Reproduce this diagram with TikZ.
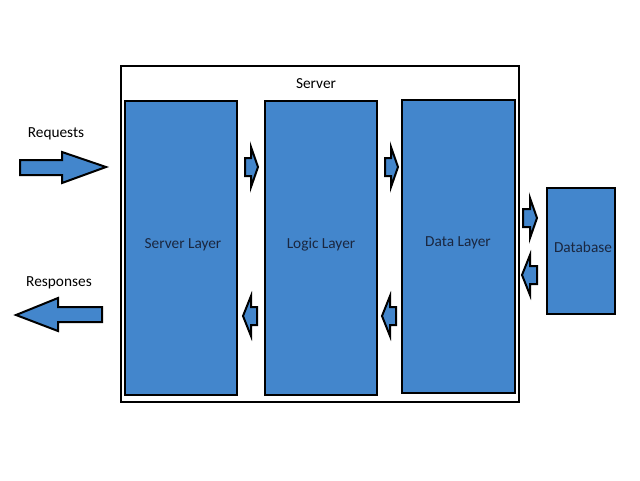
\documentclass[tikz,border=0pt]{standalone}
\usepackage{fontspec}
\setmainfont{Carlito}
\definecolor{layerblue}{HTML}{4386CC}
\definecolor{layertext}{HTML}{1A2740}
\tikzset{
	layerbox/.style={draw=black,line width=1.5pt,fill=layerblue,inner sep=0pt},
	layername/.style={text=layertext},
	blockarrow/.style={draw=black,line width=1.5pt,fill=layerblue,line join=miter}
}
\begin{document}
\begin{tikzpicture}[x=0.75pt,y=-0.75pt,font=\fontsize{11.5}{14}\selectfont]
		
		\useasboundingbox (0,0) rectangle (640,480);
		
		% outer server frame
		\draw[line width = 1.5pt] (121,66) rectangle (519,402);
		\node (server) at (316,84) {Server};
		
		% layers
		\node[layerbox,minimum width=84pt,minimum height=220.5pt] (slayer) at (181,248) {};
		\node[layerbox,minimum width=84pt,minimum height=220.5pt] (llayer) at (321,248) {};
		\node[layerbox,minimum width=84.75pt,minimum height=219.75pt] (dlayer) at (458.5,246.5) {};
		\node[layerbox,minimum width=51pt,minimum height=94.5pt] (db) at (581,251) {};
		
		\node[layername] (slayertxt) at (183,245) {Server Layer};
		\node[layername] (llayertxt) at (321,245) {Logic Layer};
		\node[layername] (dlayertxt) at (458,243) {Data Layer};
		\node[layername] (dbtxt) at (583,247) {Database};
		
		% small arrows between layers
		\draw[blockarrow] (245,158) -- (251,158) -- (251,147) -- (258,167) -- (251,187) -- (251,176) -- (245,176) -- cycle;
		\draw[blockarrow] (385,158) -- (391,158) -- (391,147) -- (398,167) -- (391,187) -- (391,176) -- (385,176) -- cycle;
		\draw[blockarrow] (257,307) -- (251,307) -- (251,296) -- (243,316) -- (251,336) -- (251,325) -- (257,325) -- cycle;
		\draw[blockarrow] (396,307) -- (390,307) -- (390,296) -- (382,316) -- (390,336) -- (390,325) -- (396,325) -- cycle;
		
		% arrows to and from the database
		\draw[blockarrow] (523,209) -- (530,209) -- (530,198) -- (537,218) -- (530,238) -- (530,227) -- (523,227) -- cycle;
		\draw[blockarrow] (537,266) -- (530,266) -- (530,255) -- (522,275) -- (530,295) -- (530,284) -- (537,284) -- cycle;
		
		% requests and responses
		\node (req) at (56,134) {Requests};
		\draw[blockarrow] (20,160) -- (62,160) -- (62,152) -- (106,167) -- (62,183) -- (62,175) -- (20,175) -- cycle;
		\node (resp) at (59,283) {Responses};
		\draw[blockarrow] (102,307) -- (58,307) -- (58,298) -- (16,315) -- (58,331) -- (58,322) -- (102,322) -- cycle;
		
	\end{tikzpicture}
\end{document}
